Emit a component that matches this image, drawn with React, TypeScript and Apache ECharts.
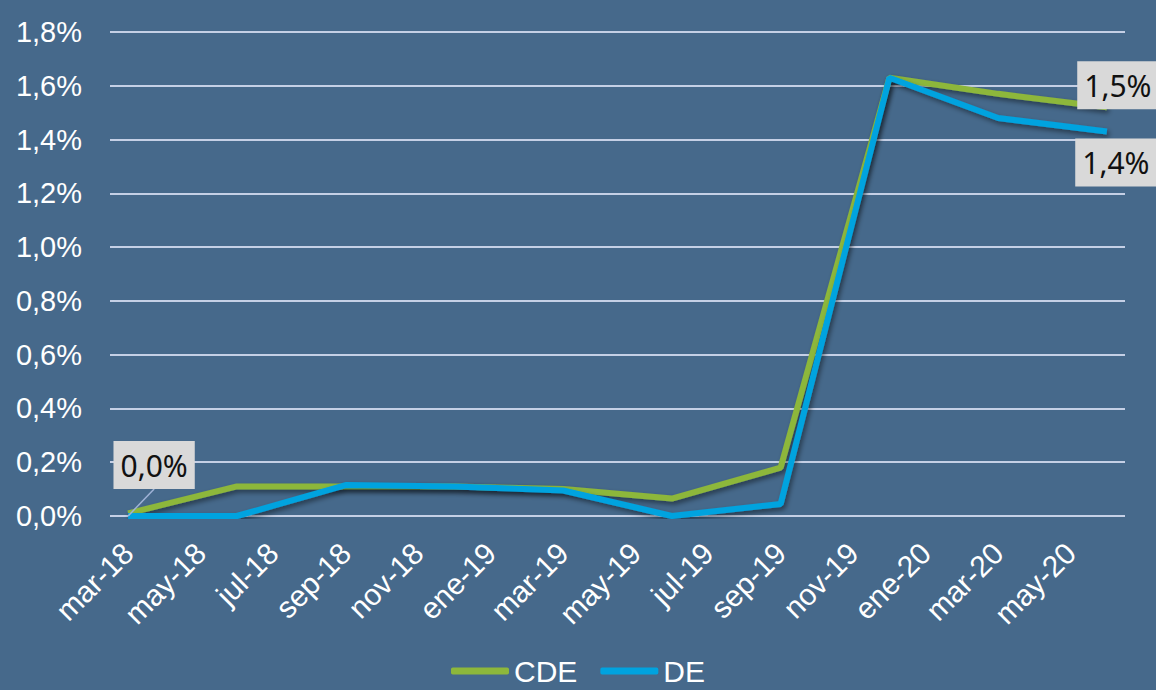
import React, { useEffect, useRef } from "react";
import * as echarts from "echarts";

const months = [
  "mar-18", "abr-18", "may-18", "jun-18", "jul-18", "ago-18", "sep-18", "oct-18", "nov-18", "dic-18",
  "ene-19", "feb-19", "mar-19", "abr-19", "may-19", "jun-19", "jul-19", "ago-19", "sep-19", "oct-19", "nov-19", "dic-19",
  "ene-20", "feb-20", "mar-20", "abr-20", "may-20", "jun-20",
];

// quarterly observations (mar, jun, sep, dic), other months empty
const cdeValues: (number | null)[] = [
  0.01, null, null, 0.11, null, null, 0.11, null, null, 0.11,
  null, null, 0.1, null, null, 0.065, null, null, 0.18, null, null, 1.63,
  null, null, 1.57, null, null, 1.52,
];
const deValues: (number | null)[] = [
  0.0, null, null, 0.0, null, null, 0.115, null, null, 0.11,
  null, null, 0.095, null, null, 0.0, null, null, 0.045, null, null, 1.63,
  null, null, 1.48, null, null, 1.43,
];

const yTicks = { min: 0, max: 1.8, interval: 0.2 };

const fmt = (v: number) => v.toFixed(1).replace(".", ",") + "%";

const labelBase = {
  show: true,
  color: "#111111",
  backgroundColor: "#D9D9D9",
  fontFamily: "Noto Sans",
  fontSize: 30,
  lineHeight: 32,
  padding: [9, 7, 7, 7],
  position: "inside",
  formatter: (p: any) => fmt(p.value),
};

export default function App() {
  const ref = useRef<HTMLDivElement>(null);
  useEffect(() => {
    if (!ref.current) return;
    const chart = echarts.init(ref.current, null, { renderer: "svg" });
    const lastIdx = months.length - 1;
    const cdeData = cdeValues.map((v, i) =>
      i === lastIdx
        ? { value: v, label: { ...labelBase }, labelLine: { show: false } }
        : v
    );
    const deData = deValues.map((v, i) =>
      i === lastIdx
        ? { value: v, label: { ...labelBase }, labelLine: { show: false } }
        : i === 0
        ? { value: v, label: { ...labelBase } }
        : v
    );
    const shadow = {
      shadowColor: "rgba(0,0,0,0.45)",
      shadowBlur: 5,
      shadowOffsetX: 2,
      shadowOffsetY: 3,
    };
    chart.setOption({
      animation: false,
      backgroundColor: "#46698B",
      grid: { left: 110, right: 31, top: 32, bottom: 174 },
      legend: {
        bottom: -1,
        left: "center",
        icon: "roundRect",
        itemWidth: 58,
        itemHeight: 7,
        itemGap: 23,
        textStyle: { color: "#ffffff", fontSize: 30, fontFamily: "Liberation Sans" },
        data: ["CDE", "DE"],
      },
      xAxis: {
        type: "category",
        data: months,
        boundaryGap: true,
        axisLine: { show: false },
        axisTick: { show: false },
        axisLabel: {
          interval: 1,
          rotate: 45,
          color: "#ffffff",
          fontSize: 30,
          fontFamily: "Liberation Sans",
          margin: 32,
        },
      },
      yAxis: {
        type: "value",
        min: yTicks.min,
        max: yTicks.max,
        interval: yTicks.interval,
        axisLine: { show: false },
        axisTick: { show: false },
        splitLine: { lineStyle: { color: "#C5D0E6", width: 2 } },
        axisLabel: {
          color: "#ffffff",
          fontSize: 29,
          fontFamily: "Liberation Sans",
          margin: 28,
          formatter: (v: number) => fmt(v),
        },
      },
      series: [
        {
          name: "CDE",
          type: "line",
          data: cdeData,
          connectNulls: true,
          symbol: "circle",
          symbolSize: 0.1,
          showSymbol: true,
          color: "#8DB73B",
          lineStyle: { width: 6, color: "#8DB73B", ...shadow },
          itemStyle: { color: "#8DB73B" },
          label: { show: false },
          labelLayout: (p: any) => (p.dataIndex === lastIdx ? { dx: 11, dy: -22 } : {}),
          z: 2,
        },
        {
          name: "DE",
          type: "line",
          data: deData,
          connectNulls: true,
          symbol: "circle",
          symbolSize: 0.1,
          showSymbol: true,
          color: "#00A3DF",
          lineStyle: { width: 6, color: "#00A3DF", ...shadow },
          itemStyle: { color: "#00A3DF" },
          label: { show: false },
          labelLine: { show: true, lineStyle: { color: "#9FB2D6", width: 1.5 } },
          labelLayout: (p: any) =>
            p.dataIndex === 0
              ? { dx: 26, dy: -51 }
              : p.dataIndex === lastIdx
              ? { dx: 9, dy: 31 }
              : {},
          z: 3,
        },
      ],
    });
    return () => chart.dispose();
  }, []);
  return (
    <div
      ref={ref}
      style={{ position: "fixed", left: 0, top: 0, width: 1156, height: 690 }}
    />
  );
}
